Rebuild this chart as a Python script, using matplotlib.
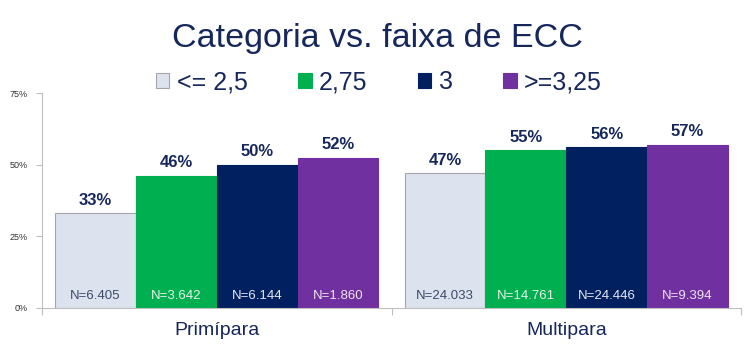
import matplotlib
matplotlib.use("Agg")
import matplotlib.pyplot as plt
import numpy as np
from matplotlib.patches import Patch

plt.rcParams['font.family'] = ['Liberation Sans', 'DejaVu Sans']

categories = ["Primípara", "Multipara"]
series = ["<= 2,5", "2,75", "3", ">=3,25"]
values = {
    "<= 2,5": [0.33, 0.47],
    "2,75": [0.46, 0.55],
    "3": [0.50, 0.56],
    ">=3,25": [0.525, 0.57],
}
pct_labels = {
    "<= 2,5": ["33%", "47%"],
    "2,75": ["46%", "55%"],
    "3": ["50%", "56%"],
    ">=3,25": ["52%", "57%"],
}
n_labels = {
    "<= 2,5": ["N=6.405", "N=24.033"],
    "2,75": ["N=3.642", "N=14.761"],
    "3": ["N=6.144", "N=24.446"],
    ">=3,25": ["N=1.860", "N=9.394"],
}
colors = ["#DCE3EF", "#00B050", "#002060", "#7030A0"]
edgecolors = ["#A6A6A6", "#00B050", "#002060", "#7030A0"]
ncolors = ["#3B4A6B", "#E8F0E8", "#E6E8F0", "#EDE4F2"]
navy = "#16275C"

fig = plt.figure(figsize=(7.5, 3.49), dpi=100)
ax = fig.add_axes([0.056, 0.1175, 0.932, 0.616])

x = np.arange(len(categories))
w = 0.2314
for i, s in enumerate(series):
    pos = x + (i - 1.5) * w
    ax.bar(pos, values[s], width=w, color=colors[i], edgecolor=edgecolors[i],
           linewidth=0.8, label=s, zorder=2)
    for j in range(len(categories)):
        ax.text(pos[j], values[s][j] + 0.02, pct_labels[s][j], ha='center', va='bottom',
                fontsize=12, fontweight='bold', color=navy)
        ax.text(pos[j], 0.042, n_labels[s][j], ha='center', va='center',
                fontsize=9.5, color=ncolors[i])

ax.set_xlim(-0.5, 1.5)
ax.set_ylim(0, 0.75)
ax.set_yticks([0, 0.25, 0.5, 0.75])
ax.set_yticklabels(["0%", "25%", "50%", "75%"], fontsize=6.5, color="#333333")
ax.set_xticks([-0.5, 0.5, 1.5])
ax.set_xticklabels([])
ax.set_xticks(x, minor=True)
ax.set_xticklabels(categories, minor=True, fontsize=14, color=navy)
ax.tick_params(axis='x', which='minor', length=0, pad=10)
ax.tick_params(axis='x', which='major', length=5, color="#BFBFBF")
ax.tick_params(axis='y', length=4, color="#BFBFBF", pad=6)
for sp in ["top", "right"]:
    ax.spines[sp].set_visible(False)
for sp in ["left", "bottom"]:
    ax.spines[sp].set_color("#BFBFBF")

fig.text(0.503, 0.89, "Categoria vs. faixa de ECC", ha='center', va='center',
         fontsize=24.5, color=navy)

handles = [Patch(facecolor=colors[i], edgecolor=edgecolors[i], linewidth=0.8) for i in range(4)]
leg = fig.legend(handles, series, loc='center', bbox_to_anchor=(0.505, 0.765), ncol=4,
                 frameon=False, fontsize=18, handlelength=0.55, handleheight=0.55,
                 handletextpad=0.3, columnspacing=2.0)
for t in leg.get_texts():
    t.set_color(navy)

fig.savefig("out.png", dpi=100)
